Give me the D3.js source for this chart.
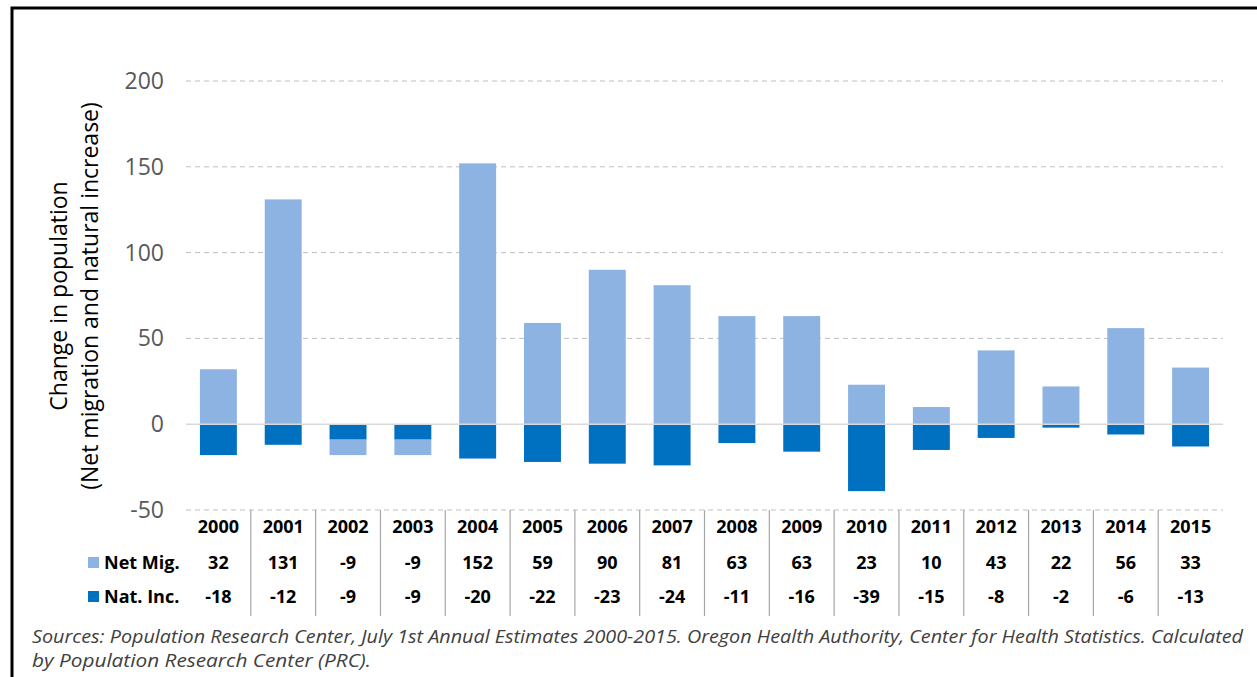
<!DOCTYPE html>
<html>
<head>
<meta charset="utf-8">
<script src="https://cdn.jsdelivr.net/npm/d3@7"></script>
<style>
  body { margin: 0; background: #fff; }
  svg { display: block; font-family: "Open Sans", "Noto Sans", sans-serif; }
</style>
</head>
<body>
<div id="chart"></div>
<script>
// data
const years = ["2000","2001","2002","2003","2004","2005","2006","2007","2008","2009","2010","2011","2012","2013","2014","2015"];
const netMig = [32, 131, -9, -9, 152, 59, 90, 81, 63, 63, 23, 10, 43, 22, 56, 33];
const natInc = [-18, -12, -9, -9, -20, -22, -23, -24, -11, -16, -39, -15, -8, -2, -6, -13];
const yTicks = [-50, 0, 50, 100, 150, 200];
const seriesNames = ["Net Mig.", "Nat. Inc."];
const colors = { "Net Mig.": "#8DB3E2", "Nat. Inc.": "#0070C0" };

const W = 1257, H = 677;
const margin = { top: 81, left: 186, right: 34, bottom: 167 };

const svg = d3.select("#chart").append("svg")
  .attr("width", W).attr("height", H);

// frame
svg.append("rect")
  .attr("x", 12).attr("y", 8)
  .attr("width", W + 20).attr("height", H + 20)
  .attr("fill", "none").attr("stroke", "#000").attr("stroke-width", 3);

const x = d3.scaleBand()
  .domain(years)
  .range([margin.left, W - margin.right])
  .paddingInner(0.43).paddingOuter(0.215);

const y = d3.scaleLinear()
  .domain([-50, 200])
  .range([H - margin.bottom, margin.top]);

const xb = d3.scaleBand().domain(years).range([margin.left, W - margin.right]);

// gridlines
svg.append("g").selectAll("line")
  .data(yTicks.filter(d => d !== 0))
  .enter().append("line")
    .attr("x1", margin.left).attr("x2", W - margin.right)
    .attr("y1", d => y(d)).attr("y2", d => y(d))
    .attr("stroke", "#BFBFBF").attr("stroke-width", 1)
    .attr("stroke-dasharray", "5,4");

// y tick labels
svg.append("g").selectAll("text")
  .data(yTicks)
  .enter().append("text")
    .attr("x", 164).attr("y", d => y(d))
    .attr("dy", "0.35em")
    .attr("text-anchor", "end")
    .attr("font-size", 23)
    .attr("fill", "#595959")
    .text(d => d);

// y axis title
const yt = svg.append("text")
  .attr("transform", `translate(67,296) rotate(-90)`)
  .attr("text-anchor", "middle")
  .attr("font-size", 23)
  .attr("fill", "#000");
yt.append("tspan").attr("x", 0).attr("dy", 0).text("Change in population");
yt.append("tspan").attr("x", 0).attr("dy", 31).text("(Net migration and natural increase)");

// stacked bars, diverging: nat. inc. sits next to zero
const rows = years.map((yr, i) => ({ year: yr, "Nat. Inc.": natInc[i], "Net Mig.": netMig[i] }));
const stack = d3.stack()
  .keys(["Nat. Inc.", "Net Mig."])
  .offset(d3.stackOffsetDiverging);
const layers = stack(rows);

svg.append("g").selectAll("g")
  .data(layers)
  .enter().append("g")
    .attr("fill", d => colors[d.key])
  .selectAll("rect")
  .data(d => d)
  .enter().append("rect")
    .attr("x", d => x(d.data.year))
    .attr("width", x.bandwidth())
    .attr("y", d => y(Math.max(d[0], d[1])))
    .attr("height", d => Math.abs(y(d[0]) - y(d[1])));

// zero line
svg.append("line")
  .attr("x1", margin.left).attr("x2", W - margin.right)
  .attr("y1", y(0)).attr("y2", y(0))
  .attr("stroke", "#D9D9D9").attr("stroke-width", 1.5);

// data table
const tableTop = y(-50);
const rowY = [527, 563, 597];
svg.append("g").selectAll("line")
  .data(years.slice(1))
  .enter().append("line")
    .attr("x1", d => xb(d)).attr("x2", d => xb(d))
    .attr("y1", tableTop).attr("y2", 616)
    .attr("stroke", "#A6A6A6").attr("stroke-width", 1.2);

const tbl = svg.append("g").attr("font-weight", "bold").attr("font-size", 18)
  .attr("text-anchor", "middle").attr("fill", "#000");
tbl.selectAll(".yr").data(years).enter().append("text")
  .attr("x", d => xb(d) + xb.bandwidth() / 2).attr("y", rowY[0]).attr("dy", "0.35em")
  .text(d => d);
tbl.selectAll(".nm").data(netMig).enter().append("text")
  .attr("x", (d, i) => xb(years[i]) + xb.bandwidth() / 2).attr("y", rowY[1]).attr("dy", "0.35em")
  .text(d => d);
tbl.selectAll(".ni").data(natInc).enter().append("text")
  .attr("x", (d, i) => xb(years[i]) + xb.bandwidth() / 2).attr("y", rowY[2]).attr("dy", "0.35em")
  .text(d => d);

// legend keys in table
seriesNames.forEach((s, i) => {
  svg.append("rect")
    .attr("x", 88).attr("y", rowY[i + 1] - 6)
    .attr("width", 11).attr("height", 11)
    .attr("fill", colors[s]);
  svg.append("text")
    .attr("x", 104).attr("y", rowY[i + 1]).attr("dy", "0.35em")
    .attr("font-weight", "bold").attr("font-size", 18)
    .text(s);
});

// source note
const src = svg.append("g")
  .attr("font-style", "italic").attr("font-size", 19)
  .attr("fill", "#404040");
src.append("text").attr("x", 32).attr("y", 643)
  .attr("textLength", 1211).attr("lengthAdjust", "spacingAndGlyphs")
  .text("Sources: Population Research Center, July 1st Annual Estimates 2000-2015. Oregon Health Authority, Center for Health Statistics. Calculated");
src.append("text").attr("x", 32).attr("y", 667)
  .attr("textLength", 339).attr("lengthAdjust", "spacingAndGlyphs")
  .text("by Population Research Center (PRC).");
</script>
</body>
</html>
